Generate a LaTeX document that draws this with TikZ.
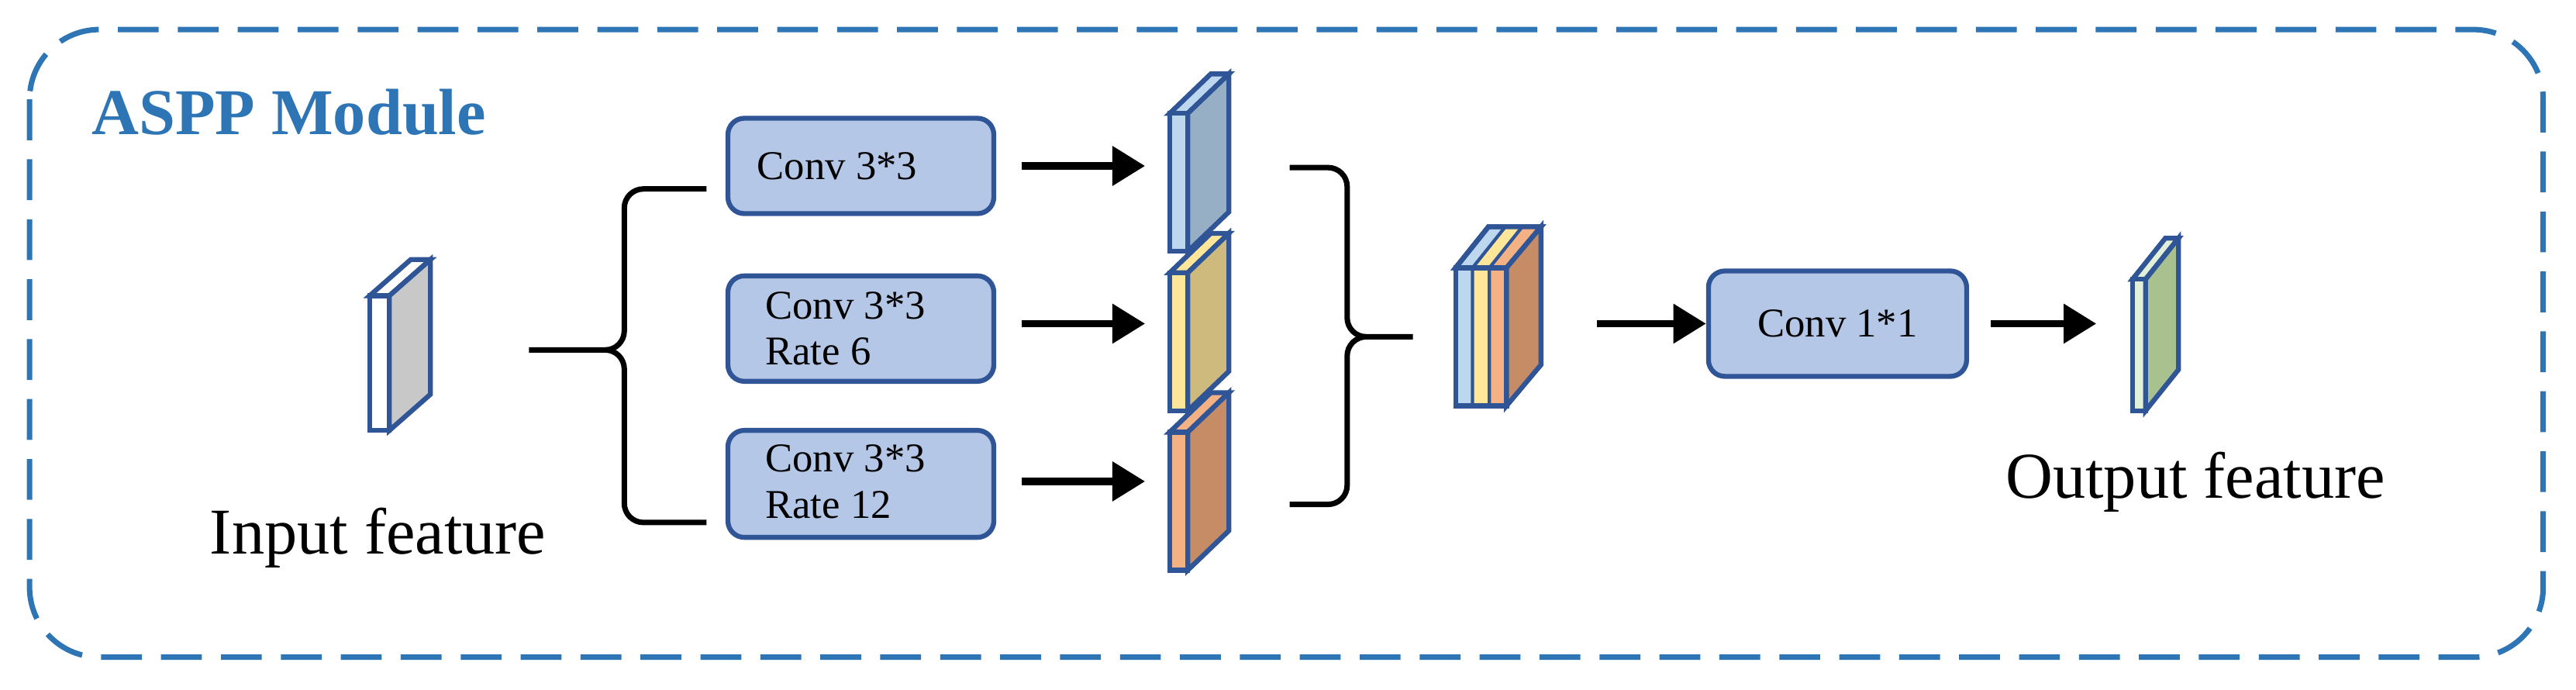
\documentclass[tikz,border=0pt]{standalone}
\usepackage{fontspec}
\setmainfont{Liberation Serif}
\usetikzlibrary{arrows.meta}
\definecolor{bord}{HTML}{2F5597}
\definecolor{dashc}{HTML}{2E75B6}
\definecolor{boxf}{HTML}{B4C7E7}
\definecolor{bluF}{HTML}{BDD7EE}\definecolor{bluS}{HTML}{97AFC4}
\definecolor{yelF}{HTML}{FFE699}\definecolor{yelS}{HTML}{CDBA7C}
\definecolor{orF}{HTML}{F4B183}\definecolor{orS}{HTML}{C58C66}
\definecolor{grF}{HTML}{E2F0D9}\definecolor{grS}{HTML}{A9C08F}
\definecolor{gyS}{HTML}{C8C8C8}
\newcommand\fmap[8]{% x, fronttop y, front width, height, dx, dy, front colour, side colour
  \draw[bord,line width=1.8pt,line join=miter,fill=#7]
    (#1,#2) -- ++(#5,-#6) -- ++(#3,0) -- ++(-#5,#6) -- cycle;
  \draw[bord,line width=1.8pt,fill=#7] (#1,#2) rectangle ++(#3,#4);
  \draw[bord,line width=1.8pt,line join=miter,fill=#8]
    (#1+#3,#2) -- ++(#5,-#6) -- ++(0,#4) -- ++(-#5,#6) -- cycle;}
\begin{document}
\begin{tikzpicture}[x=0.021193cm,y=-0.021193cm,
  conv/.style={draw=bord,fill=boxf,line width=1.8pt,rounded corners=6pt,inner sep=0pt,
     minimum width=3.43cm},
  lbl/.style={font=\fontsize{15}{17}\selectfont,align=left,anchor=west},
  arr/.style={line width=2.6pt,-{Triangle[length=12pt,width=14pt]}},
  brace/.style={line width=2pt,rounded corners=7pt}]
\useasboundingbox (0,0) rectangle (1568,419.5);
\draw[dashc,line width=2pt,dash pattern=on 15pt off 7pt,rounded corners=0.9cm] (18,18) rectangle (1548,400);
\node[anchor=base west,text=dashc,font=\fontsize{24}{28}\selectfont\bfseries] (title) at (50,82) {ASPP Module};
% input
\fmap{225}{180}{12}{82}{25}{22}{white}{gyS}
\node[anchor=base west,font=\fontsize{24}{28}\selectfont] (inlbl) at (122,337) {Input feature};
\coordinate (in) at (322,213);
% left brace
\draw[brace] (in) -- (380,213) -- (380,115) -- (430,115);
\draw[brace] (370,213) -- (380,213) -- (380,318) -- (430,318);
% conv boxes
\node[conv,minimum height=1.23cm] (c1) at (524,101) {};
\node[conv,minimum height=1.36cm] (c2) at (524,200) {};
\node[conv,minimum height=1.38cm] (c3) at (524,294.5) {};
\node[lbl] at (455,101) {Conv 3*3};
\node[lbl] at (460,200) {Conv 3*3\\Rate 6};
\node[lbl] at (460,293) {Conv 3*3\\Rate 12};
% branch maps
\fmap{712}{263}{11}{84}{25}{24}{orF}{orS}
\fmap{712}{166}{11}{84}{25}{24}{yelF}{yelS}
\fmap{712}{69}{11}{84}{25}{24}{bluF}{bluS}
\coordinate (m1) at (697,101);
\coordinate (m2) at (697,197);
\coordinate (m3) at (697,293);
\draw[arr] (622,101) -- (m1);
\draw[arr] (622,197) -- (m2);
\draw[arr] (622,293) -- (m3);
% right brace
\draw[brace] (785,102) -- (820,102) -- (820,205) -- (860,205);
\draw[brace] (785,307) -- (820,307) -- (820,205) -- (830,205);
% concat
\draw[bord,line width=1.8pt,fill=bluF] (886,163) -- (906,138) -- (938,138) -- (917,163) -- cycle;
\fill[yelF] (896.3,163) -- (916.3,138) -- (927.3,138) -- (907.3,163) -- cycle;
\fill[orF] (906.6,163) -- (926.6,138) -- (938,138) -- (917,163) -- cycle;
\fill[bluF] (886,163) rectangle (896.3,247);
\fill[yelF] (896.3,163) rectangle (906.6,247);
\fill[orF] (906.6,163) rectangle (917,247);
\draw[bord,line width=1.8pt,line join=miter] (886,163) -- (906,138) -- (938,138) -- (917,163) -- cycle;
\draw[bord,line width=1.2pt] (896.3,163) -- (916.3,138) (906.6,163) -- (926.6,138)
  (896.3,163) -- (896.3,247) (906.6,163) -- (906.6,247);
\draw[bord,line width=1.8pt] (886,163) rectangle (917,247);
\draw[bord,line width=1.8pt,line join=miter,fill=orS] (917,163) -- (938,138) -- (938,222) -- (917,247) -- cycle;
\coordinate (cat) at (972,197);
% conv 1x1
\node[conv,minimum width=3.33cm,minimum height=1.36cm] (c4) at (1118.5,197) {};
\node[font=\fontsize{15}{18}\selectfont] at (c4) {Conv 1*1};
\draw[arr] (cat) -- (c4.west);
% output
\fmap{1298}{170}{8}{80}{20}{25}{grF}{grS}
\coordinate (out) at (1276,197);
\draw[arr] (c4.east) ++(13,0) -- (out);
\node[anchor=base west,font=\fontsize{24}{28}\selectfont] (outlbl) at (1215,303) {Output feature};
\end{tikzpicture}
\end{document}
